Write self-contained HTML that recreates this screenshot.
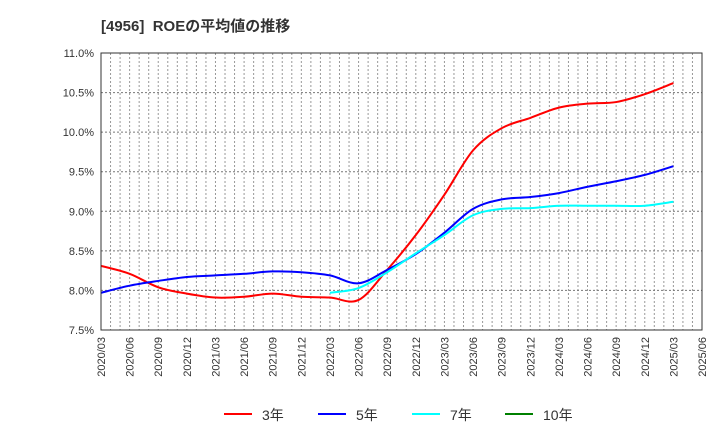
<!DOCTYPE html>
<html><head><meta charset="utf-8"><style>
body{margin:0;background:#fff;font-family:"Liberation Sans","Noto Sans CJK JP",sans-serif;}
</style></head><body>
<svg id="c" width="720" height="440" xmlns="http://www.w3.org/2000/svg" font-family="Liberation Sans, Noto Sans CJK JP, sans-serif">
<text x="101" y="31" font-size="15" font-weight="bold" fill="#333">[4956]&#160; ROEの平均値の推移</text>
<g id="grid"></g><g id="series"></g><g id="axes"></g><g id="legend"></g>
</svg>
<script>
const xLabels=["2020/03","2020/06","2020/09","2020/12","2021/03","2021/06","2021/09","2021/12","2022/03","2022/06","2022/09","2022/12","2023/03","2023/06","2023/09","2023/12","2024/03","2024/06","2024/09","2024/12","2025/03","2025/06"];
const yTicks=[7.5,8.0,8.5,9.0,9.5,10.0,10.5,11.0];
const roe3=[8.31,8.21,8.04,7.96,7.91,7.92,7.96,7.92,7.91,7.88,8.26,8.70,9.21,9.77,10.05,10.18,10.31,10.36,10.38,10.48,10.62];
const roe5=[7.97,8.06,8.12,8.17,8.19,8.21,8.24,8.23,8.19,8.09,8.26,8.46,8.73,9.03,9.15,9.18,9.23,9.31,9.38,9.46,9.57];
const roe7=[null,null,null,null,null,null,null,null,7.97,8.03,8.23,8.47,8.70,8.95,9.03,9.04,9.07,9.07,9.07,9.07,9.12];
const roe10=[];
const L=101,R=702,T=53,B=330,ymin=7.5,ymax=11.0;
const NS="http://www.w3.org/2000/svg";
function X(i){return L+i*(R-L)/21;}
function Y(v){return B-(v-ymin)/(ymax-ymin)*(B-T);}
function mk(t,a,p){const e=document.createElementNS(NS,t);for(const k in a)e.setAttribute(k,a[k]);p.appendChild(e);return e;}
const g=document.getElementById('grid'),ax=document.getElementById('axes'),s=document.getElementById('series'),lg=document.getElementById('legend');
for(let m=1;m<63;m++){const x=L+m*(R-L)/63;const l=mk('line',{x1:x,x2:x,y1:T,y2:B,stroke:'#999','stroke-dasharray':'2,2','stroke-width':1},g);

}
yTicks.forEach(v=>{const y=Y(v);const l=mk('line',{x1:L,x2:R,y1:y,y2:y,stroke:'#777','stroke-dasharray':'2,2','stroke-width':1},g);


const t=mk('text',{x:L-7,y:y+4,'text-anchor':'end','font-size':11,fill:'#333'},ax);t.textContent=v.toFixed(1)+'%';

});
const fr=mk('rect',{x:L,y:T,width:R-L,height:B-T,fill:'none',stroke:'#333','stroke-width':1},ax);


xLabels.forEach((lab,i)=>{const x=X(i)+4;const t=mk('text',{x:x,y:B+7,'text-anchor':'end','font-size':11,fill:'#333',transform:`rotate(-90 ${x} ${B+7})`},ax);t.textContent=lab;

});
function path(arr){let d='';let pts=[];arr.forEach((v,i)=>{if(v!=null)pts.push([X(i),Y(v)]);});
if(!pts.length)return '';d='M'+pts[0][0]+','+pts[0][1];
for(let i=0;i<pts.length-1;i++){const p0=pts[i-1]||pts[i],p1=pts[i],p2=pts[i+1],p3=pts[i+2]||p2;
const c1=[p1[0]+(p2[0]-p0[0])/6,p1[1]+(p2[1]-p0[1])/6],c2=[p2[0]-(p3[0]-p1[0])/6,p2[1]-(p3[1]-p1[1])/6];
d+=` C${c1[0]},${c1[1]} ${c2[0]},${c2[1]} ${p2[0]},${p2[1]}`;}return d;}
[[roe3,'#ff0000','line-3yr'],[roe5,'#0000ff','line-5yr'],[roe7,'#00ffff','line-7yr'],[roe10,'#008000','line-10yr']].forEach(([a,c,n])=>{const d=path(a);if(!d)return;
const p=mk('path',{d:d,fill:'none',stroke:c,'stroke-width':2,'stroke-linejoin':'round'},s);

});
[['3年','#ff0000',224],['5年','#0000ff',318],['7年','#00ffff',412],['10年','#008000',505]].forEach(([t,c,x])=>{
const l=mk('line',{x1:x,x2:x+28,y1:414,y2:414,stroke:c,'stroke-width':2},lg);


const tx=mk('text',{x:x+38,y:420,'font-size':14,fill:'#333'},lg);tx.textContent=t;

});
</script>
</body></html>
